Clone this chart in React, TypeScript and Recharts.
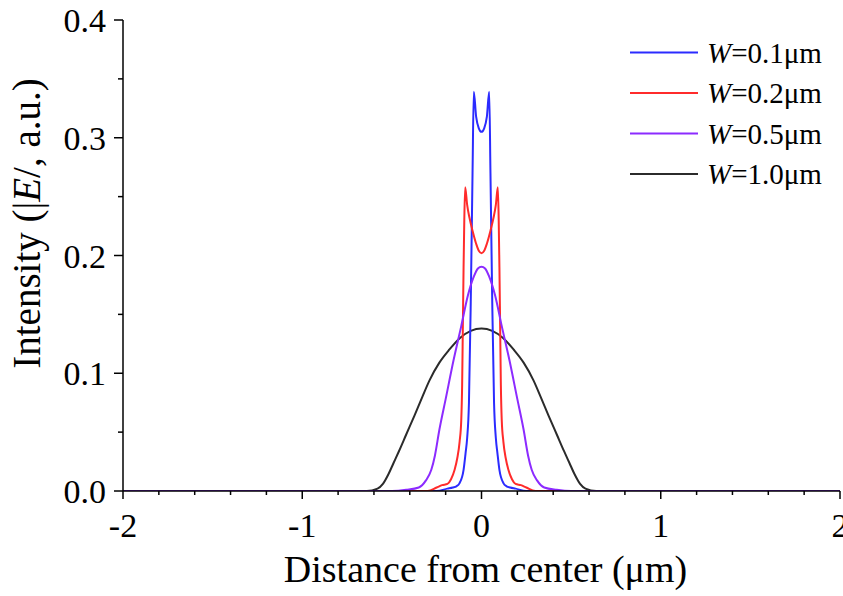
import React from 'react';
import { LineChart, Line, XAxis, YAxis, Legend } from 'recharts';

// distance from center (um) and intensity for each slot width
const w01X = [-2, -0.25, -0.19, -0.16, -0.14, -0.123, -0.1, -0.089, -0.08, -0.07, -0.06, -0.05, -0.043, -0.03, -0.015, 0, 0.015, 0.03, 0.043, 0.05, 0.06, 0.07, 0.08, 0.089, 0.1, 0.123, 0.14, 0.16, 0.19, 0.25, 2];
const w01Y = [0, 0, 0.002, 0.003, 0.004, 0.0065, 0.018, 0.032, 0.045, 0.075, 0.16, 0.27, 0.339, 0.318, 0.308, 0.305, 0.308, 0.318, 0.339, 0.27, 0.16, 0.075, 0.045, 0.032, 0.018, 0.0065, 0.004, 0.003, 0.002, 0, 0];

const w02X = [-2, -0.3, -0.25, -0.22, -0.19, -0.17, -0.15, -0.135, -0.122, -0.113, -0.108, -0.104, -0.1, -0.096, -0.091, -0.08, -0.067, -0.05, -0.03, -0.015, 0, 0.015, 0.03, 0.05, 0.067, 0.08, 0.091, 0.096, 0.1, 0.104, 0.108, 0.113, 0.122, 0.135, 0.15, 0.17, 0.19, 0.22, 0.25, 0.3, 2];
const w02Y = [0, 0, 0.003, 0.005, 0.006, 0.01, 0.018, 0.028, 0.042, 0.06, 0.09, 0.14, 0.19, 0.23, 0.258, 0.243, 0.232, 0.221, 0.21, 0.204, 0.202, 0.204, 0.21, 0.221, 0.232, 0.243, 0.258, 0.23, 0.19, 0.14, 0.09, 0.06, 0.042, 0.028, 0.018, 0.01, 0.006, 0.005, 0.003, 0, 0];

const w05X = [-2, -0.5, -0.42, -0.35, -0.31, -0.28, -0.26, -0.235, -0.2, -0.156, -0.113, -0.076, -0.043, -0.02, 0, 0.02, 0.043, 0.076, 0.113, 0.156, 0.2, 0.235, 0.26, 0.28, 0.31, 0.35, 0.42, 0.5, 2];
const w05Y = [0, 0, 0.001, 0.003, 0.009, 0.018, 0.03, 0.052, 0.078, 0.111, 0.14, 0.166, 0.182, 0.189, 0.1905, 0.189, 0.182, 0.166, 0.14, 0.111, 0.078, 0.052, 0.03, 0.018, 0.009, 0.003, 0.001, 0, 0];

const w10X = [-2, -0.64, -0.58, -0.55, -0.52, -0.49, -0.46, -0.42, -0.374, -0.33, -0.29, -0.235, -0.18, -0.12, -0.06, 0, 0.06, 0.12, 0.18, 0.235, 0.29, 0.33, 0.374, 0.42, 0.46, 0.49, 0.52, 0.55, 0.58, 0.64, 2];
const w10Y = [0, 0, 0.002, 0.006, 0.014, 0.024, 0.034, 0.048, 0.064, 0.08, 0.094, 0.109, 0.12, 0.13, 0.136, 0.138, 0.136, 0.13, 0.12, 0.109, 0.094, 0.08, 0.064, 0.048, 0.034, 0.024, 0.014, 0.006, 0.002, 0, 0];

const seriesNames = ['0.1', '0.2', '0.5', '1.0'];
const seriesColors = ['#2b2bff', '#ff2b2b', '#8c2bff', '#2b2b2b'];

const xTicks = [-2, -1.8, -1.6, -1.4, -1.2, -1, -0.8, -0.6, -0.4, -0.2, 0, 0.2, 0.4, 0.6, 0.8, 1, 1.2, 1.4, 1.6, 1.8, 2];
const yTicks = [0, 0.05, 0.1, 0.15, 0.2, 0.25, 0.3, 0.35, 0.4];

const FONT = '"Liberation Serif", "Times New Roman", serif';

const toPoints = (xs: number[], ys: number[]) => xs.map((x, i) => ({ x, v: ys[i] }));

const isMajorX = (v: number) => Math.abs(v - Math.round(v)) < 1e-6;
const isMajorY = (v: number) => Math.abs(v * 10 - Math.round(v * 10)) < 1e-6;

const BottomTick = ({ x, y, payload }: any) => {
  const major = isMajorX(payload.value);
  return (
    <g>
      <line x1={x} x2={x} y1={y} y2={y + (major ? 8 : 4)} stroke="#000" strokeWidth={1.5} />
      {major && (
        <text x={x} y={y + 46} textAnchor="middle" fontFamily={FONT} fontSize={34} fill="#000">
          {Math.round(payload.value)}
        </text>
      )}
    </g>
  );
};

const LeftTick = ({ x, y, payload }: any) => {
  const major = isMajorY(payload.value);
  return (
    <g>
      <line x1={x} x2={x - (major ? 9 : 5)} y1={y} y2={y} stroke="#000" strokeWidth={1.5} />
      {major && (
        <text x={x - 17} y={y + 12} textAnchor="end" fontFamily={FONT} fontSize={34} fill="#000">
          {payload.value.toFixed(1)}
        </text>
      )}
    </g>
  );
};

const TopTick = ({ x, y }: any) => (
  <line x1={x} x2={x} y1={y} y2={y + 3} stroke="#000" strokeWidth={1.2} />
);

const RightTick = ({ x, y }: any) => (
  <line x1={x} x2={x - 3} y1={y} y2={y} stroke="#000" strokeWidth={1.2} />
);

const YTitle = ({ viewBox }: any) => {
  const cx = viewBox.x + 40;
  const cy = viewBox.y + viewBox.height / 2 - 32;
  return (
    <text x={cx} y={cy} transform={`rotate(-90, ${cx}, ${cy})`} textAnchor="middle" fontFamily={FONT} fontSize={39} fill="#000">
      Intensity (|<tspan fontStyle="italic">E</tspan>/, a.u.)
    </text>
  );
};

const XTitle = ({ viewBox }: any) => (
  <text x={viewBox.x + viewBox.width / 2 + 4} y={viewBox.y + 91} textAnchor="middle" fontFamily={FONT} fontSize={38} fill="#000">
    Distance from center (μm)
  </text>
);

const LegendBox = () => (
  <svg width={220} height={170}>
    {seriesNames.map((n, i) => {
      const cy = 20.5 + i * 40.5;
      return (
        <g key={n}>
          <line x1={5} x2={73} y1={cy} y2={cy} stroke={seriesColors[i]} strokeWidth={2} />
          <text x={82} y={cy + 10} fontFamily={FONT} fontSize={29} fill="#000">
            <tspan fontStyle="italic">W</tspan>={n}μm
          </text>
        </g>
      );
    })}
  </svg>
);

const datasets = [toPoints(w01X, w01Y), toPoints(w02X, w02Y), toPoints(w05X, w05Y), toPoints(w10X, w10Y)];
const drawOrder = [3, 0, 1, 2];

export default function App() {
  return (
    <div style={{ position: 'absolute', left: 0, top: 0, width: 843, height: 596, background: '#fff' }}>
      <LineChart width={843} height={596} margin={{ top: 20, right: 3, left: 0, bottom: 0 }}>
        <XAxis
          xAxisId="b"
          type="number"
          dataKey="x"
          domain={[-2, 2]}
          ticks={xTicks}
          interval={0}
          allowDataOverflow
          height={105}
          tickSize={0}
          tickMargin={0}
          tick={<BottomTick />}
          tickLine={false}
          axisLine={{ stroke: '#000', strokeWidth: 1.5 }}
          label={<XTitle />}
        />
        <XAxis
          xAxisId="t"
          orientation="top"
          type="number"
          dataKey="x"
          domain={[-2, 2]}
          ticks={xTicks}
          interval={0}
          allowDataOverflow
          height={0}
          tickSize={0}
          tickMargin={0}
          tick={<TopTick />}
          tickLine={false}
          axisLine={{ stroke: '#000', strokeWidth: 1.5 }}
        />
        <YAxis
          yAxisId="l"
          type="number"
          domain={[0, 0.4]}
          ticks={yTicks}
          interval={0}
          allowDataOverflow
          width={123}
          tickSize={0}
          tickMargin={0}
          tick={<LeftTick />}
          tickLine={false}
          axisLine={{ stroke: '#000', strokeWidth: 1.5 }}
          label={<YTitle />}
        />
        <YAxis
          yAxisId="r"
          orientation="right"
          type="number"
          domain={[0, 0.4]}
          ticks={yTicks}
          interval={0}
          allowDataOverflow
          width={0}
          tickSize={0}
          tickMargin={0}
          tick={<RightTick />}
          tickLine={false}
          axisLine={{ stroke: '#000', strokeWidth: 1.5 }}
        />
        <Legend
          layout="vertical"
          align="center"
          verticalAlign="middle"
          content={<LegendBox />}
          wrapperStyle={{ left: 625, top: 32, width: 220, height: 170 }}
        />
        {drawOrder.map((i) => (
          <Line
            key={seriesNames[i]}
            xAxisId="b"
            yAxisId="l"
            data={datasets[i]}
            dataKey="v"
            name={`W=${seriesNames[i]}μm`}
            type="monotone"
            stroke={seriesColors[i]}
            strokeWidth={2}
            dot={false}
            activeDot={false}
            isAnimationActive={false}
          />
        ))}
      </LineChart>
    </div>
  );
}
